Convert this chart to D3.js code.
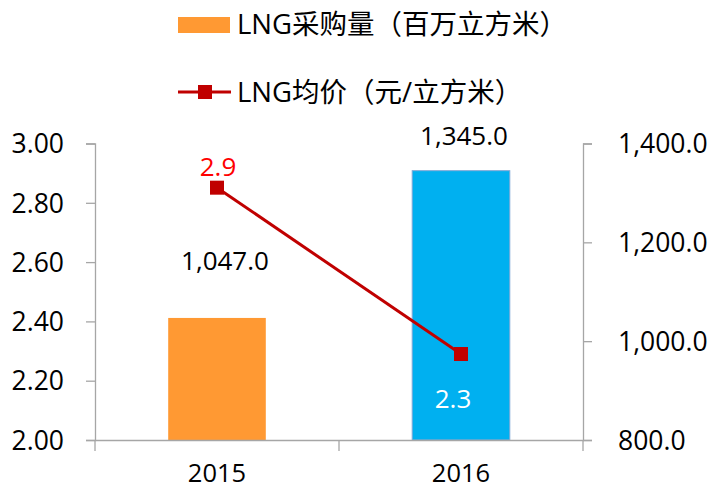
<!DOCTYPE html>
<html>
<head>
<meta charset="utf-8">
<script src="https://cdn.jsdelivr.net/npm/d3@7"></script>
<style>
  body { margin: 0; background: white; }
  text { font-family: "Open Sans", "Noto Sans CJK SC", sans-serif; }
</style>
</head>
<body>
<div id="container"></div>
<script>
let w = 710;
let h = 490;

// data
let years = ["2015", "2016"];
let volumes = [1047, 1345];      // LNG采购量（百万立方米）, right axis
let prices = [2.851, 2.29];      // LNG均价（元/立方米）, left axis
let priceTicks = [2.0, 2.2, 2.4, 2.6, 2.8, 3.0];
let volumeTicks = [800, 1000, 1200, 1400];
let barColors = ["#FF9933", "#00B0F0"];
let legendLabels = ["LNG采购量（百万立方米）", "LNG均价（元/立方米）"];

let plotLeft = 95, plotRight = 583, plotTop = 143.5, plotBottom = 440;
let axisColor = "#A6A6A6";
let lineColor = "#C00000";

let viz = d3.select("#container")
  .append("svg")
    .attr("width", w)
    .attr("height", h)
    .style("background-color", "white");

let xScale = d3.scaleBand().domain(years).range([plotLeft, plotRight]).padding(0);
let yPrice = d3.scaleLinear().domain([2, 3]).range([plotBottom, plotTop]);
let yVolume = d3.scaleLinear().domain([800, 1400]).range([plotBottom, plotTop]);

let barW = xScale.bandwidth() * 0.4;
function centerX(d, i){
  return xScale(years[i]) + xScale.bandwidth() / 2;
}

// bars
viz.selectAll(".bar").data(volumes).enter()
  .append("rect")
    .attr("x", (d, i) => centerX(d, i) - barW / 2)
    .attr("y", d => yVolume(d))
    .attr("width", barW)
    .attr("height", d => plotBottom - yVolume(d))
    .attr("fill", (d, i) => barColors[i])
    .attr("stroke", (d, i) => i == 1 ? "#7FA7D6" : "none")
    .attr("stroke-width", 1);

// left axis
let leftAxis = d3.axisLeft(yPrice).tickValues(priceTicks)
  .tickFormat(d3.format(".2f")).tickSizeOuter(0).tickSize(9).tickPadding(22);
let gl = viz.append("g").attr("transform", "translate(" + plotLeft + ",0)").call(leftAxis);

// right axis
let rightAxis = d3.axisRight(yVolume).tickValues(volumeTicks)
  .tickFormat(d3.format(",.1f")).tickSizeOuter(0).tickSize(9).tickPadding(26);
let gr = viz.append("g").attr("transform", "translate(" + plotRight + ",0)").call(rightAxis);

// bottom axis, ticks between categories
let bottomAxis = d3.axisBottom(xScale).tickSize(0).tickSizeOuter(0).tickPadding(0);
let gb = viz.append("g").attr("transform", "translate(0," + plotBottom + ")").call(bottomAxis);
gb.selectAll(".sep").data([plotLeft, (plotLeft + plotRight) / 2, plotRight]).enter()
  .append("line")
    .attr("x1", d => d).attr("x2", d => d)
    .attr("y1", 0).attr("y2", 11)
    .attr("stroke", axisColor);

[gl, gr, gb].forEach(function(g){
  g.selectAll("path, line").attr("stroke", axisColor).attr("stroke-width", 1.3);
  g.selectAll("text").attr("fill", "#000").style("font-size", "26.5px");
});
gb.selectAll("text").attr("y", 42).attr("dy", "0").style("font-size", "25.5px");
gr.selectAll("text").attr("dy", "0.35em");
gl.selectAll("text").attr("dy", "0.35em");

// price line
let line = d3.line()
  .x((d, i) => centerX(d, i))
  .y(d => yPrice(d));
viz.append("path")
  .datum(prices)
  .attr("d", line)
  .attr("fill", "none")
  .attr("stroke", lineColor)
  .attr("stroke-width", 3);

viz.selectAll(".marker").data(prices).enter()
  .append("rect")
    .attr("x", (d, i) => centerX(d, i) - 7)
    .attr("y", d => yPrice(d) - 7)
    .attr("width", 14)
    .attr("height", 14)
    .attr("fill", lineColor);

// labels
let fmtPrice = d3.format(".1f");
let fmtVol = d3.format(",.1f");
let volLabelY = [270, 145];
viz.selectAll(".vlabel").data(volumes).enter()
  .append("text")
    .attr("x", (d, i) => centerX(d, i) + (i == 0 ? 8 : 3))
    .attr("y", (d, i) => volLabelY[i])
    .attr("text-anchor", "middle")
    .style("font-size", "26px")
    .attr("fill", "#000")
    .text(d => fmtVol(d));

let priceLabelY = [176, 408];
viz.selectAll(".plabel").data(prices).enter()
  .append("text")
    .attr("x", (d, i) => centerX(d, i) + (i == 0 ? 1 : -8))
    .attr("y", (d, i) => priceLabelY[i])
    .attr("text-anchor", "middle")
    .style("font-size", "26px")
    .attr("fill", (d, i) => i == 0 ? "#FF0000" : "#FFFFFF")
    .text(d => fmtPrice(d));

// legend
let lg = viz.append("g");
lg.append("rect")
  .attr("x", 178).attr("y", 17).attr("width", 52).attr("height", 16)
  .attr("fill", barColors[0]);
lg.append("line")
  .attr("x1", 178).attr("x2", 231).attr("y1", 92).attr("y2", 92)
  .attr("stroke", lineColor).attr("stroke-width", 3);
lg.append("rect")
  .attr("x", 198).attr("y", 85).attr("width", 14).attr("height", 14)
  .attr("fill", lineColor);
lg.selectAll(".ltext").data(legendLabels).enter()
  .append("text")
    .attr("x", 237)
    .attr("y", (d, i) => i == 0 ? 34 : 102)
    .style("font-size", "27.5px")
    .attr("fill", "#000")
    .text(d => d);
</script>
</body>
</html>
